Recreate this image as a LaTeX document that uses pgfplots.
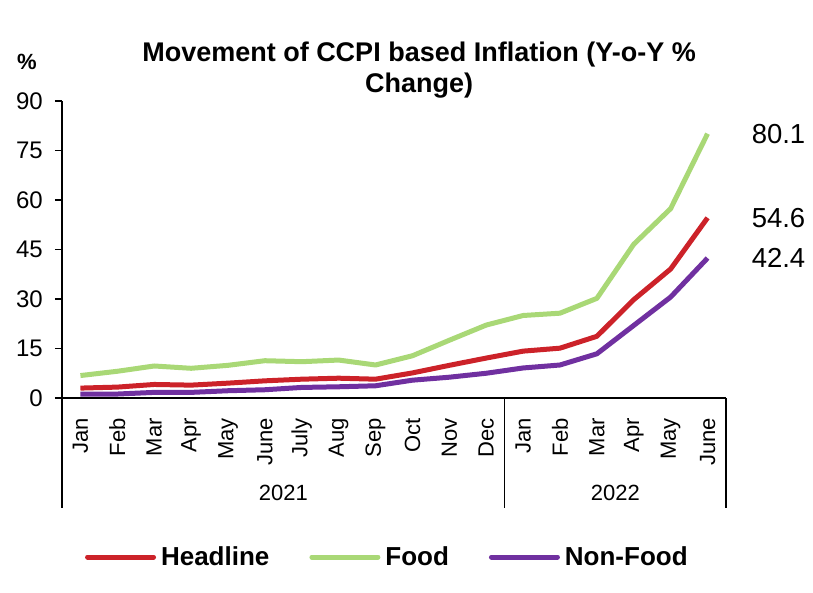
\documentclass[border=0pt]{standalone}
\usepackage{pgfplots}
\pgfplotsset{compat=1.18}
\usepackage{fontspec}
\setmainfont{Liberation Sans}
\definecolor{cred}{RGB}{204,34,41}
\definecolor{cgreen}{RGB}{169,216,118}
\definecolor{cpurple}{RGB}{112,48,160}
\begin{document}
\begin{tikzpicture}
\useasboundingbox (-62pt,-195pt) rectangle (751pt,398pt);
\begin{axis}[
  at={(0,0)}, anchor=south west,
  scale only axis,
  width=664pt, height=297pt,
  xmin=-0.5, xmax=17.5,
  ymin=0, ymax=90,
  axis x line=bottom, axis y line=left,
  axis line style={line width=1.6pt, -},
  ytick={0,15,30,45,60,75,90},
  xtick={0,...,17},
  xticklabels={Jan,Feb,Mar,Apr,May,June,July,Aug,Sep,Oct,Nov,Dec,Jan,Feb,Mar,Apr,May,June},
  xticklabel style={rotate=90, anchor=east, font=\fontsize{22}{25}\selectfont, inner sep=0pt},
  xticklabel shift=13pt,
  major x tick style={draw=none},
  ytick style={line width=1.6pt, black},
  tick align=outside,
  major tick length=7pt,
  yticklabel style={font=\fontsize{24}{28}\selectfont, /pgf/number format/assume math mode=true, inner sep=0pt},
  yticklabel shift=12pt,
  clip=false,
  legend style={at={(0.490,0)}, yshift=-159pt, anchor=center, draw=none,
    font=\bfseries\fontsize{26}{30}\selectfont,
    /tikz/every odd column/.append style={column sep=3pt},
    /tikz/every even column/.append style={column sep=38pt}},
  legend columns=3,
  legend image code/.code={\draw[#1, line width=5pt, line cap=round] (0pt,0pt) -- (66pt,0pt);},
]
\addplot[cred, line width=5pt, line join=round] coordinates {
(0,3.0)(1,3.3)(2,4.1)(3,3.9)(4,4.5)(5,5.2)(6,5.7)(7,6.0)(8,5.7)(9,7.6)(10,9.9)(11,12.1)
(12,14.2)(13,15.1)(14,18.7)(15,29.8)(16,39.1)(17,54.6)};
\addlegendentry{Headline}
\addplot[cgreen, line width=5pt, line join=round] coordinates {
(0,6.8)(1,8.1)(2,9.7)(3,9.0)(4,9.9)(5,11.3)(6,11.0)(7,11.5)(8,10.0)(9,12.8)(10,17.5)(11,22.1)
(12,25.0)(13,25.7)(14,30.2)(15,46.6)(16,57.4)(17,80.1)};
\addlegendentry{Food}
\addplot[cpurple, line width=5pt, line join=round] coordinates {
(0,1.2)(1,1.2)(2,1.7)(3,1.7)(4,2.2)(5,2.5)(6,3.2)(7,3.4)(8,3.7)(9,5.4)(10,6.3)(11,7.5)
(12,9.1)(13,10.0)(14,13.4)(15,22.0)(16,30.6)(17,42.4)};
\addlegendentry{Non-Food}
% data labels
\node[anchor=west, font=\fontsize{27.5}{30}\selectfont, inner sep=0pt] at (axis cs:17,80.1) [xshift=44pt] {80.1};
\node[anchor=west, font=\fontsize{27.5}{30}\selectfont, inner sep=0pt] at (axis cs:17,54.6) [xshift=44pt] {54.6};
\node[anchor=west, font=\fontsize{27.5}{30}\selectfont, inner sep=0pt] at (axis cs:17,42.4) [xshift=44pt] {42.4};
% group separators
\draw[line width=1.6pt] (axis cs:-0.5,0) -- ([yshift=-110pt]axis cs:-0.5,0);
\draw[line width=1.6pt] (axis cs:11.5,0) -- ([yshift=-110pt]axis cs:11.5,0);
\draw[line width=1.6pt] (axis cs:17.5,0) -- ([yshift=-110pt]axis cs:17.5,0);
\node[font=\fontsize{22}{26}\selectfont] at ([yshift=-95pt]axis cs:5.5,0) {2021};
\node[font=\fontsize{22}{26}\selectfont] at ([yshift=-95pt]axis cs:14.5,0) {2022};
% title and unit
\node[align=center, font=\bfseries\fontsize{27}{31}\selectfont] at ([yshift=30.5pt]rel axis cs:0.5377,1) {Movement of CCPI based Inflation (Y-o-Y \%\\Change)};
\node[font=\bfseries\fontsize{22}{26}\selectfont] at ([xshift=-35pt, yshift=39pt]rel axis cs:0,1) {\%};
\end{axis}
\end{tikzpicture}
\end{document}
